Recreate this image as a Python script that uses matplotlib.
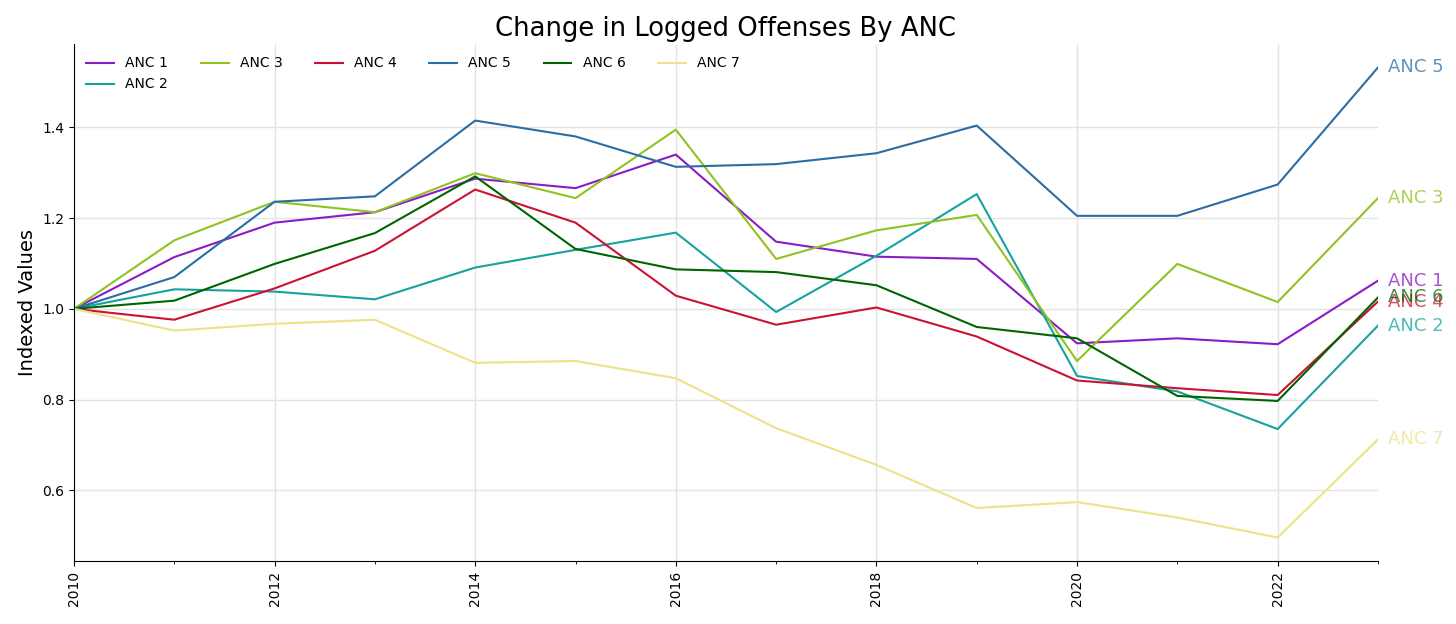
import numpy as np
import matplotlib
matplotlib.use("Agg")
import matplotlib.pyplot as plt
from matplotlib.ticker import MultipleLocator

years = list(range(2010, 2024))

anc_1 = [1.000, 1.114, 1.190, 1.213, 1.287, 1.266, 1.340, 1.148, 1.115, 1.110, 0.924, 0.935, 0.922, 1.062]
anc_2 = [1.000, 1.043, 1.038, 1.021, 1.091, 1.130, 1.168, 0.993, 1.117, 1.253, 0.852, 0.818, 0.735, 0.963]
anc_3 = [1.000, 1.151, 1.236, 1.213, 1.299, 1.244, 1.395, 1.110, 1.173, 1.207, 0.885, 1.099, 1.015, 1.244]
anc_4 = [1.000, 0.976, 1.045, 1.128, 1.263, 1.190, 1.029, 0.965, 1.003, 0.939, 0.842, 0.825, 0.810, 1.016]
anc_5 = [1.000, 1.070, 1.236, 1.248, 1.415, 1.380, 1.313, 1.319, 1.343, 1.404, 1.205, 1.205, 1.274, 1.532]
anc_6 = [1.000, 1.018, 1.099, 1.167, 1.292, 1.132, 1.087, 1.081, 1.052, 0.960, 0.935, 0.808, 0.797, 1.025]
anc_7 = [1.000, 0.952, 0.967, 0.976, 0.881, 0.885, 0.847, 0.737, 0.656, 0.561, 0.574, 0.540, 0.496, 0.712]

names = ["ANC 1", "ANC 2", "ANC 3", "ANC 4", "ANC 5", "ANC 6", "ANC 7"]
series = [anc_1, anc_2, anc_3, anc_4, anc_5, anc_6, anc_7]
colors = ["#8a1cc4", "#14a39e", "#8fc322", "#cc1234", "#2a6da6", "#006400", "#ede28a"]

fig, ax = plt.subplots(figsize=(14.56, 6.24), dpi=100)
fig.subplots_adjust(left=0.0508, right=0.9464, top=0.9295, bottom=0.101)

for name, vals, col in zip(names, series, colors):
    ax.plot(years, vals, color=col, linewidth=1.5, label=name)
    # label at the end of each line
    ax.text(years[-1] + 0.1, vals[-1], name, color=col, alpha=0.75,
            fontsize=13, va="center", ha="left")

ax.set_xlim(years[0], years[-1])
ax.xaxis.set_major_locator(MultipleLocator(2))
ax.xaxis.set_minor_locator(MultipleLocator(1))
ax.tick_params(axis="x", labelrotation=90, labelsize=10)
ax.tick_params(axis="y", labelsize=10)
ax.yaxis.set_major_locator(MultipleLocator(0.2))

ax.grid(True, color="#e3e3e3", linewidth=1)
ax.set_axisbelow(True)
for side in ["top", "right"]:
    ax.spines[side].set_visible(False)

ax.set_ylabel("Indexed Values", fontsize=14)
ax.set_title("Change in Logged Offenses By ANC", fontsize=18.6)
ax.legend(loc="upper left", ncol=6, frameon=False, fontsize=10,
          columnspacing=2.35, handlelength=2.0)

plt.savefig("out.png", dpi=100)
